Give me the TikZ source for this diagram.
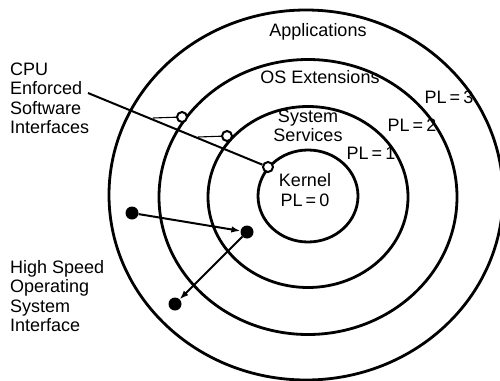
\documentclass[tikz,border=0pt]{standalone}
\usepackage{fontspec}
\setmainfont{Liberation Sans}
\usetikzlibrary{shapes.geometric,arrows.meta}
\begin{document}
\begin{tikzpicture}[x=1pt,y=-1pt,
  ring/.style={draw, ellipse, line width=2.8pt, inner sep=0pt},
  lbl/.style={font=\fontsize{18}{19.3}\selectfont, inner sep=0pt},
  port/.style={draw, circle, line width=2pt, minimum size=10pt, inner sep=0pt, fill=white},
  dot/.style={fill, circle, minimum size=13pt, inner sep=0pt},
  wire/.style={line width=2pt},
  thin wire/.style={line width=1.1pt},
  flow/.style={line width=2pt, -{Latex[length=9pt,width=6.5pt]}}]
\useasboundingbox (0,0) rectangle (500,380);

% protection rings, innermost first
\node[ring, minimum width=100pt, minimum height=92pt]  (kernel) at (308,196) {};
\node[ring, minimum width=200pt, minimum height=181pt] (svc)    at (308,197) {};
\node[ring, minimum width=298pt, minimum height=275pt] (osx)    at (308,197) {};
\node[ring, minimum width=394pt, minimum height=370pt] (apps)   at (306,195) {};

% ring names and privilege levels
\node[lbl] (tapps) at (318,32) {Applications};
\node[lbl] (tosx)  at (320,77) {OS Extensions};
\node[lbl, align=center] (tsvc) at (308,126) {System\\Services};
\node[lbl, align=center] (tker) at (305,190) {Kernel\\PL\,=\,0};
\node[lbl] (pl1) at (371,153) {PL\,=\,1};
\node[lbl] (pl2) at (412,125) {PL\,=\,2};
\node[lbl] (pl3) at (449,97)  {PL\,=\,3};

% side captions (base anchor sits on the last line)
\node[lbl, align=left, anchor=base west] (tcpu) at (10,133.5) {CPU\\Enforced\\Software\\Interfaces};
\node[lbl, align=left, anchor=base west] (thso) at (10,331.5) {High Speed\\Operating\\System\\Interface};

% gate ports on the ring boundaries
\coordinate (cpuend) at (88,93);
\node[port] (g3) at (182,117) {};
\node[port] (g2) at (227,136) {};
\node[port] (g1) at (268,167) {};
\coordinate (b3) at (153,118);
\coordinate (b2) at (198,137);
\draw[wire] (cpuend) -- (g1);
\draw[thin wire] (b3) -- (g3);
\draw[thin wire] (b2) -- (g2);

% direct call path
\node[dot] (pa) at (132,213) {};
\node[dot] (pb) at (247,232) {};
\node[dot] (pc) at (175,304) {};
\draw[flow] (pa) -- (pb);
\draw[flow] (pb) -- (pc);
\end{tikzpicture}
\end{document}
